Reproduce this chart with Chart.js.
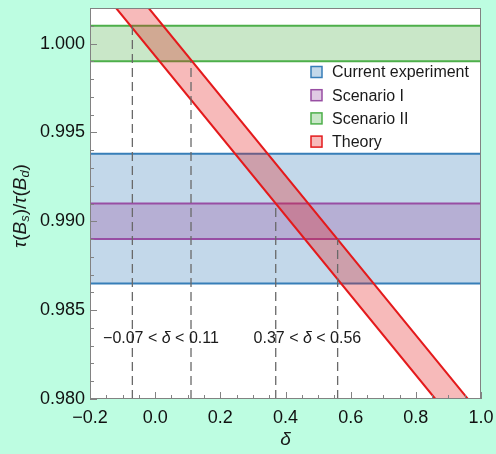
<!DOCTYPE html>
<html>
<head>
<meta charset="utf-8">
<script src="https://cdn.jsdelivr.net/npm/chart.js@4.4.1/dist/chart.umd.min.js"></script>
<style>
  html, body { margin: 0; padding: 0; background: #bdfde1; }
</style>
</head>
<body>
<canvas id="myChart" width="496" height="454"></canvas>
<script>
// axis ticks
const deltaTicks = [-0.2, 0.0, 0.2, 0.4, 0.6, 0.8, 1.0]
const tauTicks = [0.980, 0.985, 0.990, 0.995, 1.000]
const deltaRange = [-0.2, 1.0]
const tauRange = [0.980, 1.002]

// horizontal bands (tau ranges)
const bandNames = ['Current experiment', 'Scenario I', 'Scenario II', 'Theory']
const currentBand = [0.9865, 0.9938]
const scenario1Band = [0.989, 0.991]
const scenario2Band = [0.999, 1.001]

// theory band edges (straight lines, top and bottom end points)
const theoryLowerDelta = [-0.12, 0.86]
const theoryUpperDelta = [-0.02, 0.96]
const theoryTau = [1.002, 0.980]

// dashed bounds
const boundDelta = [-0.07, 0.11, 0.37, 0.56]
const boundTau = [1.001, 0.999, 0.991, 0.989]
const boundText = [['\u22120.07 < ', 'δ', ' < 0.11'], ['0.37 < ', 'δ', ' < 0.56']]

const colors = {
  blue: 'rgb(55,126,184)',
  purple: 'rgb(152,78,163)',
  green: 'rgb(77,175,74)',
  red: 'rgb(228,26,28)'
}
const fills = {
  blue: 'rgba(55,126,184,0.3)',
  purple: 'rgba(152,78,163,0.3)',
  green: 'rgba(77,175,74,0.3)',
  red: 'rgba(228,26,28,0.3)'
}
const FONT = '"Liberation Sans", Arial, sans-serif'

function rect(band) {
  return [
    {x: deltaRange[0], y: band[0]},
    {x: deltaRange[1], y: band[0]},
    {x: deltaRange[1], y: band[1]},
    {x: deltaRange[0], y: band[1]},
    {x: deltaRange[0], y: band[0]}
  ]
}

function bandSet(label, band, c, order) {
  return {
    label: label,
    data: rect(band),
    showLine: true,
    fill: 'shape',
    backgroundColor: fills[c],
    borderColor: colors[c],
    borderWidth: 2,
    pointRadius: 0,
    order: order
  }
}

let theoryPoly = [
  {x: theoryLowerDelta[0], y: theoryTau[0]},
  {x: theoryLowerDelta[1], y: theoryTau[1]},
  {x: theoryUpperDelta[1], y: theoryTau[1]},
  {x: theoryUpperDelta[0], y: theoryTau[0]},
  {x: theoryLowerDelta[0], y: theoryTau[0]}
]

let datasets = [
  bandSet(bandNames[0], currentBand, 'blue', 10),
  bandSet(bandNames[1], scenario1Band, 'purple', 9),
  bandSet(bandNames[2], scenario2Band, 'green', 8),
  {
    label: bandNames[3],
    data: theoryPoly,
    showLine: true,
    fill: 'shape',
    backgroundColor: fills.red,
    borderColor: colors.red,
    borderWidth: 2,
    pointRadius: 0,
    order: 7
  }
]
boundDelta.forEach((d, i) => {
  datasets.push({
    label: '',
    data: [{x: d, y: tauRange[0]}, {x: d, y: boundTau[i]}],
    showLine: true,
    fill: false,
    borderColor: 'rgb(105,105,105)',
    borderWidth: 1.3,
    borderDash: [9, 5],
    pointRadius: 0,
    order: 1
  })
})

function drawRuns(ctx, runs, x, y, size) {
  runs.forEach((t, i) => {
    let it = (t === 'δ' || t === 'τ')
    ctx.font = (it ? 'italic ' : '') + size + 'px ' + FONT
    ctx.fillText(t, x, y)
    x += ctx.measureText(t).width
  })
}

const decor = {
  id: 'decor',
  beforeDraw(chart) {
    const ctx = chart.ctx
    const a = chart.chartArea
    ctx.save()
    ctx.fillStyle = '#bdfde1'
    ctx.fillRect(0, 0, chart.width, chart.height)
    ctx.fillStyle = '#ffffff'
    ctx.fillRect(a.left, a.top, a.right - a.left, a.bottom - a.top)
    ctx.restore()
  },
  afterDraw(chart) {
    const ctx = chart.ctx
    const a = chart.chartArea
    const xs = chart.scales.x
    const ys = chart.scales.y
    ctx.save()
    // frame
    ctx.strokeStyle = 'rgb(130,130,130)'
    ctx.lineWidth = 1
    ctx.strokeRect(a.left + 0.5, a.top + 0.5, a.right - a.left - 1, a.bottom - a.top - 1)
    // inward ticks
    ctx.beginPath()
    for (let v = deltaRange[0]; v <= deltaRange[1] + 1e-9; v += 0.05) {
      let px = Math.round(xs.getPixelForValue(v)) + 0.5
      let major = deltaTicks.some(t => Math.abs(t - v) < 1e-6)
      ctx.moveTo(px, a.bottom)
      ctx.lineTo(px, a.bottom - (major ? 7 : 4))
    }
    for (let v = tauRange[0]; v <= tauRange[1] + 1e-9; v += 0.001) {
      let py = Math.round(ys.getPixelForValue(v)) + 0.5
      let major = tauTicks.some(t => Math.abs(t - v) < 1e-6)
      ctx.moveTo(a.left, py)
      ctx.lineTo(a.left + (major ? 7 : 4), py)
    }
    ctx.stroke()

    // legend
    const items = chart.data.datasets.filter(d => d.label)
    ctx.textBaseline = 'middle'
    ctx.textAlign = 'left'
    items.forEach((d, i) => {
      let y = a.top + 64 + i * 23.2
      let x = a.right - 170
      ctx.fillStyle = '#ffffff'
      ctx.fillRect(x, y - 5.5, 11, 11)
      ctx.fillStyle = d.backgroundColor
      ctx.fillRect(x, y - 5.5, 11, 11)
      ctx.strokeStyle = d.borderColor
      ctx.lineWidth = 1.5
      ctx.strokeRect(x, y - 5.5, 11, 11)
      ctx.fillStyle = '#1a1a1a'
      ctx.font = '16px ' + FONT
      ctx.fillText(d.label, x + 21, y + 1)
    })

    // bound annotations
    ctx.fillStyle = '#1a1a1a'
    drawRuns(ctx, boundText[0], xs.getPixelForValue(-0.16), ys.getPixelForValue(0.9834), 16)
    drawRuns(ctx, boundText[1], xs.getPixelForValue(0.302), ys.getPixelForValue(0.9834), 16)

    // axis titles
    ctx.font = 'italic 19px ' + FONT
    ctx.textAlign = 'center'
    ctx.fillText('δ', (a.left + a.right) / 2, 440)

    ctx.translate(21, 206)
    ctx.rotate(-Math.PI / 2)
    const parts = [
      ['τ', 19, 0, true], ['(', 19, 0, false], ['B', 19, 0, true], ['s', 13, 4, true],
      [')/', 19, 0, false], ['τ', 19, 0, true], ['(', 19, 0, false], ['B', 19, 0, true],
      ['d', 13, 4, true], [')', 19, 0, false]
    ]
    ctx.textAlign = 'left'
    let w = 0
    parts.forEach(p => {
      ctx.font = (p[3] ? 'italic ' : '') + p[1] + 'px ' + FONT
      w += ctx.measureText(p[0]).width
    })
    let x = -w / 2
    parts.forEach(p => {
      ctx.font = (p[3] ? 'italic ' : '') + p[1] + 'px ' + FONT
      ctx.fillText(p[0], x, p[2])
      x += ctx.measureText(p[0]).width
    })
    ctx.restore()
  }
}

let chart = new Chart(document.querySelector('#myChart'), {
  type: 'scatter',
  data: { datasets: datasets },
  options: {
    responsive: false,
    animation: false,
    devicePixelRatio: 1,
    layout: { padding: { left: 0, right: 15, top: 8, bottom: 0 } },
    plugins: {
      legend: { display: false },
      tooltip: { enabled: false }
    },
    scales: {
      x: {
        type: 'linear',
        min: deltaRange[0],
        max: deltaRange[1],
        afterBuildTicks: s => { s.ticks = deltaTicks.map(v => ({ value: v })) },
        afterFit: s => { s.height = 55; s.paddingLeft = 0; s.paddingRight = 0 },
        grid: { display: false, drawTicks: false },
        border: { display: false },
        ticks: {
          padding: 8,
          color: '#111',
          font: { family: FONT, size: 18 },
          maxRotation: 0,
          callback: v => v.toFixed(1).replace('-', '\u2212')
        }
      },
      y: {
        type: 'linear',
        min: tauRange[0],
        max: tauRange[1],
        afterBuildTicks: s => { s.ticks = tauTicks.map(v => ({ value: v })) },
        afterFit: s => { s.width = 90; s.paddingTop = 0; s.paddingBottom = 0 },
        grid: { display: false, drawTicks: false },
        border: { display: false },
        ticks: {
          padding: 5,
          color: '#111',
          font: { family: FONT, size: 18 },
          callback: v => v.toFixed(3)
        }
      }
    }
  },
  plugins: [decor]
})
</script>
</body>
</html>
